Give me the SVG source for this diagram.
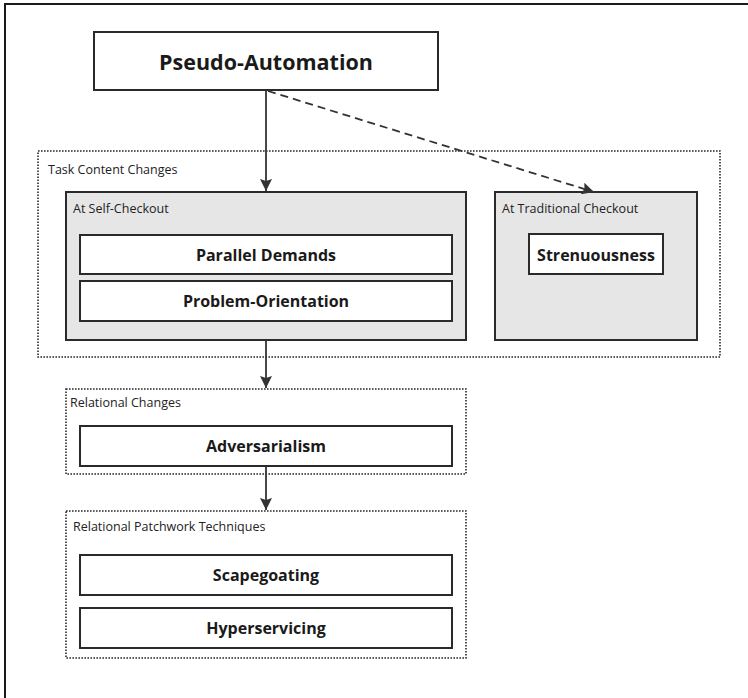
<svg xmlns="http://www.w3.org/2000/svg" width="748" height="698" viewBox="0 0 748 698">
<style>
.box{fill:#fff;stroke:#2a2a2a;stroke-width:2}
.grp{fill:#e6e6e6;stroke:#2a2a2a;stroke-width:2}
.dot{fill:none;stroke:#2a2a2a;stroke-width:1.6;stroke-dasharray:1.6 1.4}
.lbl{font-family:"Open Sans","DejaVu Sans",sans-serif;font-size:12.5px;fill:#222}
.bold{font-family:"Open Sans","DejaVu Sans",sans-serif;font-weight:bold;font-size:16px;fill:#1a1a1a;text-anchor:middle;dominant-baseline:central}
.edge{fill:none;stroke:#333;stroke-width:1.8}
</style>
<defs>
<marker id="ah" viewBox="0 0 12 12" refX="12" refY="6" markerWidth="12" markerHeight="12" markerUnits="userSpaceOnUse" orient="auto">
<path d="M0,0 L12,6 L0,12 L2,6 Z" fill="#333"/>
</marker>
</defs>
<rect x="5" y="4" width="800" height="800" fill="#fff" stroke="#1a1a1a" stroke-width="2"/>
<g id="pseudo-automation">
<rect class="box" x="94" y="32" width="344" height="58"/>
<text class="bold" x="266" y="61" style="font-size:21.5px">Pseudo-Automation</text>
</g>
<g id="task-content-changes">
<rect class="dot" x="38" y="151" width="682" height="206"/>
<text class="lbl" x="48" y="174">Task Content Changes</text>
</g>
<g id="self-checkout">
<rect class="grp" x="66" y="192" width="400" height="148"/>
<text class="lbl" x="73" y="213">At Self-Checkout</text>
</g>
<g id="parallel-demands">
<rect class="box" x="80" y="235" width="372" height="39"/>
<text class="bold" x="266" y="254.5">Parallel Demands</text>
</g>
<g id="problem-orientation">
<rect class="box" x="80" y="281" width="372" height="40"/>
<text class="bold" x="266" y="301">Problem-Orientation</text>
</g>
<g id="traditional-checkout">
<rect class="grp" x="495" y="192" width="202" height="148"/>
<text class="lbl" x="502" y="213">At Traditional Checkout</text>
</g>
<g id="strenuousness">
<rect class="box" x="529" y="234" width="134" height="40"/>
<text class="bold" x="596" y="254.5">Strenuousness</text>
</g>
<g id="relational-changes">
<rect class="dot" x="66" y="389" width="400" height="85"/>
<text class="lbl" x="70" y="407">Relational Changes</text>
</g>
<g id="adversarialism">
<rect class="box" x="80" y="426" width="372" height="40"/>
<text class="bold" x="266" y="446">Adversarialism</text>
</g>
<g id="relational-patchwork">
<rect class="dot" x="66" y="511" width="400" height="147"/>
<text class="lbl" x="73" y="531">Relational Patchwork Techniques</text>
</g>
<g id="scapegoating">
<rect class="box" x="80" y="555" width="372" height="40"/>
<text class="bold" x="266" y="575">Scapegoating</text>
</g>
<g id="hyperservicing">
<rect class="box" x="80" y="608" width="372" height="40"/>
<text class="bold" x="266" y="628">Hyperservicing</text>
</g>
<g id="connectors">
<path class="edge" d="M266,91 L266,191" marker-end="url(#ah)"/>
<path class="edge" d="M268,91 L594,192" stroke-dasharray="8 5" marker-end="url(#ah)"/>
<path class="edge" d="M266,341 L266,388" marker-end="url(#ah)"/>
<path class="edge" d="M266,467 L266,510" marker-end="url(#ah)"/>
</g>
</svg>
